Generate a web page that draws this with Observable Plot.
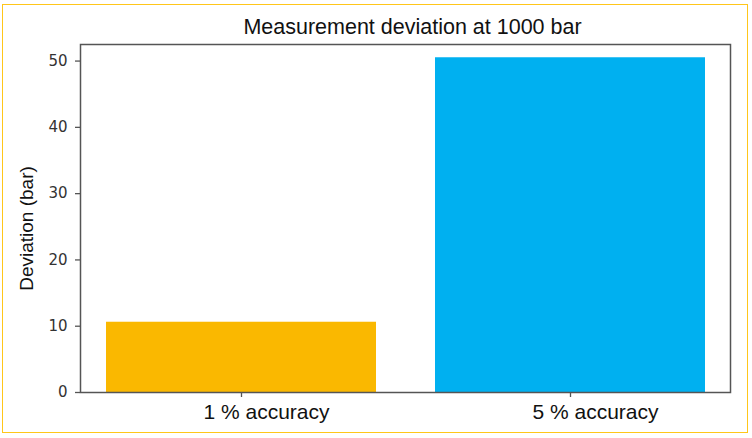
<!DOCTYPE html>
<html>
<head>
<meta charset="utf-8">
<script src="https://cdn.jsdelivr.net/npm/d3@7"></script>
<script src="https://cdn.jsdelivr.net/npm/@observablehq/plot@0.6"></script>
<style>
  html, body { margin: 0; padding: 0; background: #fff; }
  #wrap { position: relative; width: 752px; height: 438px; overflow: hidden; }
  #border { position: absolute; left: 2px; top: 4px; width: 744px; height: 427px; border: 1.5px solid #FFC61A; pointer-events: none; }
  #chart svg { display: block; }
</style>
</head>
<body>
<div id="wrap"><div id="chart"></div><div id="border"></div></div>
<script>
const categories = ["1 % accuracy", "5 % accuracy"];
const deviations = [10.6, 50.5];
const barColors = ["#FAB800", "#00B0F0"];
const yTicks = [0, 10, 20, 30, 40, 50];
const title = "Measurement deviation at 1000 bar";
const yLabel = "Deviation (bar)";

const data = categories.map((c, i) => ({category: c, value: deviations[i], color: barColors[i]}));

const chart = Plot.plot({
  width: 752,
  height: 438,
  marginTop: 44,
  marginLeft: 80,
  marginRight: 22,
  marginBottom: 46,
  style: {fontFamily: "DejaVu Sans", background: "transparent", overflow: "visible"},
  x: {domain: categories, paddingInner: 0.18, paddingOuter: 0.076, label: null},
  y: {domain: [0, 52.5], label: null},
  marks: [
    Plot.barY(data, {x: "category", y: "value", fill: "color"}),
    Plot.frame({stroke: "#555", strokeWidth: 1.5}),
    Plot.axisY({ticks: yTicks, tickSize: 5, tickPadding: 8, fontSize: 15, fill: "#333", stroke: "#555", strokeWidth: 1.3, label: null}),
    Plot.axisX({tickSize: 5, text: null, stroke: "#555", strokeWidth: 1.3, label: null}),
    Plot.axisX({tickSize: 0, tickPadding: 12, dx: 25, fontSize: 21, fontFamily: "Liberation Sans", fill: "#111", label: null}),
    Plot.text([title], {frameAnchor: "top", lineAnchor: "middle", dy: -17, dx: 7, fontSize: 21.5, fontFamily: "Liberation Sans", fill: "#111", text: d => d}),
    Plot.text([yLabel], {frameAnchor: "left", textAnchor: "middle", lineAnchor: "middle", dx: -54, dy: 10, rotate: -90, fontSize: 19, fontFamily: "Liberation Sans", fill: "#111", text: d => d})
  ]
});
document.getElementById("chart").appendChild(chart);
</script>
</body>
</html>
